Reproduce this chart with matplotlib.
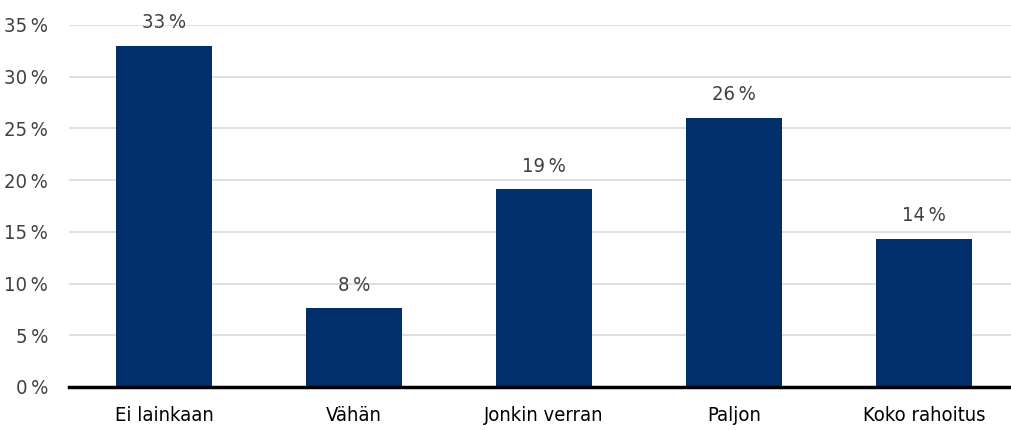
import numpy as np
import matplotlib.pyplot as plt

# Data
categories = ["Ei lainkaan", "Vähän", "Jonkin verran", "Paljon", "Koko rahoitus"]
values = [33.0, 7.6, 19.1, 26.0, 14.3]
yticks = [0, 5, 10, 15, 20, 25, 30, 35]

plt.rcParams['font.family'] = ['DejaVu Sans']
plt.rcParams['font.stretch'] = 'condensed'

fig = plt.figure(figsize=(10.11, 4.30), dpi=100)
ax = fig.add_axes([69 / 1011, 43 / 430, 950 / 1011, 362 / 430])

x = np.arange(len(categories))
ax.bar(x, values, width=0.51, color='#002f6b', zorder=3)

# Etiketit pylväiden päälle
for xi, v in zip(x, values):
    ax.annotate(f"{v:.0f}\u202f%", (xi, v), xytext=(0, 10), textcoords='offset points',
                ha='center', va='bottom', fontsize=14.5, color='#404040',
                annotation_clip=False)

ax.set_xlim(-0.5, 4.5)
ax.set_ylim(0, 35)
ax.set_yticks(yticks)
ax.set_yticklabels([f"{t}\u202f%" for t in yticks])
ax.set_xticks(x)
ax.set_xticklabels(categories)

ax.grid(axis='y', color='#d9d9d9', linewidth=1.2, zorder=0)
ax.axhline(0, color='black', linewidth=2.5, zorder=4, clip_on=False)
for s in ax.spines.values():
    s.set_visible(False)
ax.tick_params(axis='both', length=0, labelsize=14.5, colors='#404040')
ax.tick_params(axis='x', pad=14, colors='black')
ax.tick_params(axis='y', pad=15)

fig.savefig("out.png", dpi=100)
